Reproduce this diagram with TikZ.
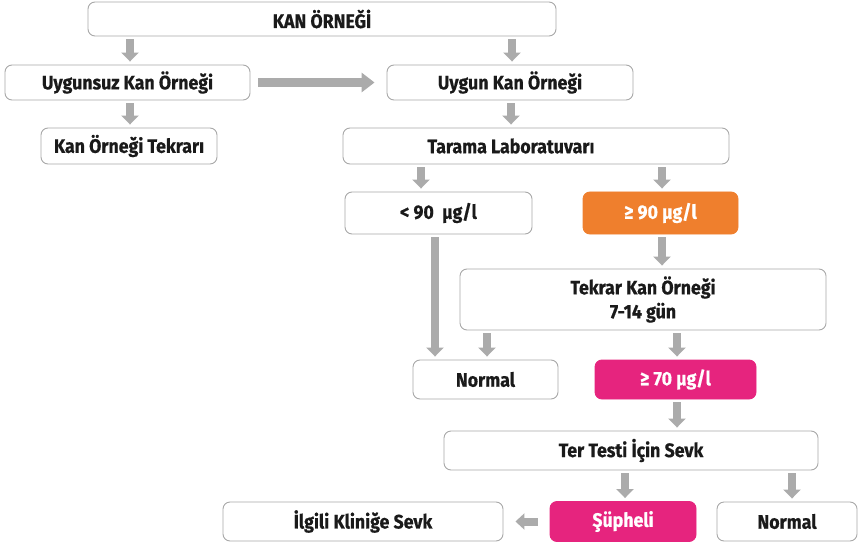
\documentclass[tikz,border=0pt]{standalone}
\usepackage{fontspec}
\setmainfont{Fira Sans}[BoldFeatures={FakeStretch=0.91,FakeBold=0.6}]
\usetikzlibrary{arrows.meta,calc}
\definecolor{arrgray}{HTML}{ABABAB}
\definecolor{bordgray}{HTML}{A8A8A8}
\definecolor{orng}{HTML}{EF7F2D}
\definecolor{mgnt}{HTML}{E6247E}
\definecolor{txt}{HTML}{1A1A1A}
\begin{document}
\begin{tikzpicture}[x=1pt,y=-1pt,
  box/.style={draw=bordgray, line width=0.9pt, rounded corners=7pt, fill=white,
    font=\fontsize{19.5}{24}\selectfont\bfseries, text=txt, inner sep=0pt, align=center},
  hot/.style={box, draw=#1, fill=#1, text=white},
  arr/.style={draw=arrgray, line width=8pt, -{Triangle[width=17pt,length=9pt]},
    shorten <=3pt, shorten >=3pt},
  bigarr/.style={draw=arrgray, line width=9pt, -{Triangle[width=19pt,length=13pt]},
    shorten <=8pt, shorten >=12pt}]
\useasboundingbox (0,0) rectangle (858,545);
% nodes
\node[box, minimum width=468pt, minimum height=34pt] (kan) at (322,19) {KAN ÖRNEĞİ};
\node[box, minimum width=245pt, minimum height=35pt] (uyg) at (127.5,82.5) {Uygunsuz Kan Örneği};
\node[box, minimum width=246pt, minimum height=35pt] (uyn) at (510,82.5) {Uygun Kan Örneği};
\node[box, minimum width=176pt, minimum height=36pt] (tek) at (129,146) {Kan Örneği Tekrarı};
\node[box, minimum width=386pt, minimum height=36pt] (tar) at (536,146) {Tarama Laboratuvarı\hspace*{50pt}};
\node[box, minimum width=187pt, minimum height=42pt] (lt) at (438.5,213) {<~90~~µg/l};
\node[hot=orng, minimum width=155pt, minimum height=42pt] (ge90) at (660.5,213) {≥ 90 µg/l};
\node[box, minimum width=366pt, minimum height=61pt] (rep) at (643,299.5) {Tekrar Kan Örneği\\7-14 gün};
\node[box, minimum width=145pt, minimum height=39pt] (nor1) at (485.5,379.5) {Normal};
\node[hot=mgnt, minimum width=161pt, minimum height=39pt] (ge70) at (675.5,379.5) {≥ 70 µg/l};
\node[box, minimum width=374pt, minimum height=39pt] (ter) at (631,450.5) {Ter Testi İçin Sevk};
\node[box, minimum width=280pt, minimum height=39pt] (ilg) at (363,521.5) {İlgili Kliniğe Sevk};
\node[hot=mgnt, minimum width=146pt, minimum height=40pt] (sup) at (623,521.5) {Şüpheli};
\node[box, minimum width=140pt, minimum height=39pt] (nor2) at (787,521.5) {Normal};
% connectors
\draw[arr] ([xshift=2.5pt]uyg.north |- kan.south) -- ([xshift=2.5pt]uyg.north);
\draw[arr] ([xshift=2pt]uyn.north |- kan.south) -- ([xshift=2pt]uyn.north);
\draw[bigarr] (uyg.east) -- (uyn.west);
\draw[arr] ([xshift=2.5pt]uyg.south) -- ([xshift=2.5pt]uyg.south |- tek.north);
\draw[arr] ([xshift=1pt]uyn.south) -- ([xshift=1pt]uyn.south |- tar.north);
\draw[arr] ([xshift=-17.5pt]lt.north |- tar.south) -- ([xshift=-17.5pt]lt.north);
\draw[arr] ([xshift=1.5pt]ge90.north |- tar.south) -- ([xshift=1.5pt]ge90.north);
\draw[arr] ([xshift=-3.5pt]lt.south) -- ([xshift=-3.5pt]lt.south |- nor1.north);
\draw[arr] ([xshift=1.5pt]ge90.south) -- ([xshift=1.5pt]ge90.south |- rep.north);
\draw[arr] ([xshift=1.5pt]nor1.north |- rep.south) -- ([xshift=1.5pt]nor1.north);
\draw[arr] ([xshift=1.5pt]ge70.north |- rep.south) -- ([xshift=1.5pt]ge70.north);
\draw[arr] ([xshift=1.5pt]ge70.south) -- ([xshift=1.5pt]ge70.south |- ter.north);
\draw[arr] ([xshift=2pt]sup.north |- ter.south) -- ([xshift=2pt]sup.north);
\draw[arr] ([xshift=5pt]nor2.north |- ter.south) -- ([xshift=5pt]nor2.north);
\draw[arr, shorten <=12pt, shorten >=12pt, -{Triangle[width=16pt,length=9pt]}] (sup.west) -- (ilg.east);
\end{tikzpicture}
\end{document}
